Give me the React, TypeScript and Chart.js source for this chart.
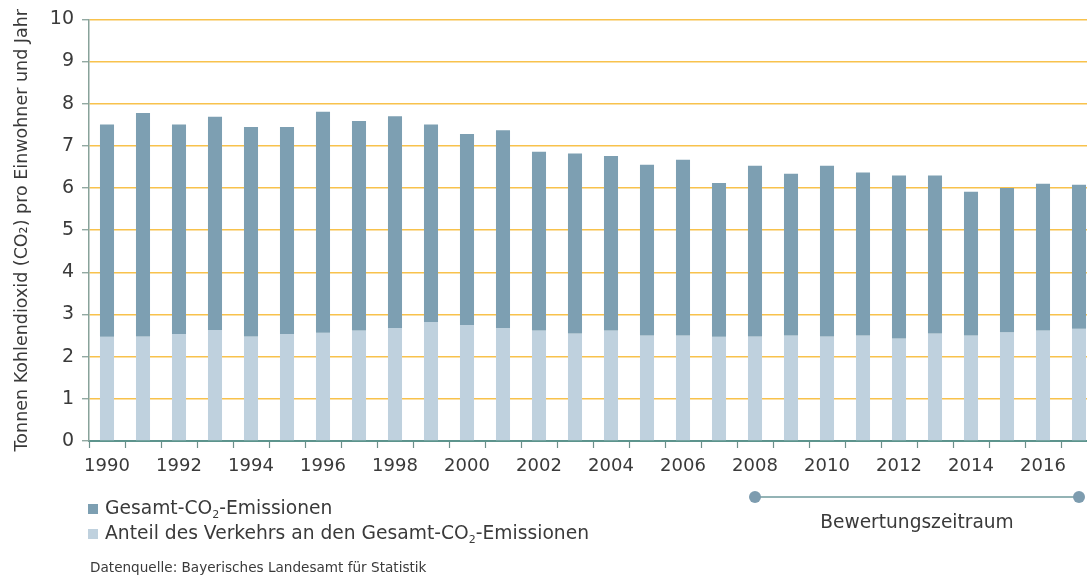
import React, { useEffect, useRef } from "react";
import { Chart, registerables } from "chart.js";

Chart.register(...registerables);

const years = [
  "1990", "1991", "1992", "1993", "1994", "1995", "1996", "1997", "1998", "1999",
  "2000", "2001", "2002", "2003", "2004", "2005", "2006", "2007", "2008", "2009",
  "2010", "2011", "2012", "2013", "2014", "2015", "2016", "2017",
];

// Gesamt-CO2-Emissionen (t pro Einwohner und Jahr)
const gesamt = [
  7.51, 7.78, 7.51, 7.69, 7.45, 7.45, 7.81, 7.59, 7.7, 7.51,
  7.28, 7.37, 6.86, 6.82, 6.76, 6.55, 6.67, 6.12, 6.53, 6.34,
  6.53, 6.37, 6.3, 6.3, 5.91, 6.0, 6.1, 6.08,
];

// Anteil des Verkehrs
const verkehr = [
  2.47, 2.48, 2.54, 2.63, 2.48, 2.54, 2.57, 2.62, 2.68, 2.82,
  2.75, 2.68, 2.62, 2.55, 2.62, 2.5, 2.5, 2.47, 2.48, 2.5,
  2.48, 2.5, 2.43, 2.55, 2.5, 2.58, 2.62, 2.66,
];

const yTicks = [0, 1, 2, 3, 4, 5, 6, 7, 8, 9, 10];
const periodStart = "2008";
const periodEnd = "2017";

const FONT = "'DejaVu Sans', 'Liberation Sans', Arial, sans-serif";
const TEXT = "#3a3a3a";
const DARK = "#7d9fb2";
const LIGHT = "#bfd1de";

const periodPlugin = {
  id: "periodPlugin",
  afterDraw(chart: any) {
    const xs = chart.scales.x;
    const x1 = xs.getPixelForValue(years.indexOf(periodStart));
    const x2 = xs.getPixelForValue(years.indexOf(periodEnd));
    const y = 497;
    const ctx = chart.ctx;
    ctx.save();
    ctx.strokeStyle = "#6f9a9c";
    ctx.lineWidth = 1.5;
    ctx.beginPath();
    ctx.moveTo(x1, y);
    ctx.lineTo(x2, y);
    ctx.stroke();
    ctx.fillStyle = "#7d9caf";
    [x1, x2].forEach((x) => {
      ctx.beginPath();
      ctx.arc(x, y, 6, 0, Math.PI * 2);
      ctx.fill();
    });
    ctx.restore();
  },
};

export default function App() {
  const ref = useRef<HTMLCanvasElement | null>(null);

  useEffect(() => {
    if (!ref.current) return;
    const chart = new Chart(ref.current, {
      type: "bar",
      data: {
        labels: years,
        datasets: [
          {
            label: "Anteil des Verkehrs an den Gesamt-CO₂-Emissionen",
            data: verkehr,
            backgroundColor: LIGHT,
            grouped: false,
            barPercentage: 0.39,
            categoryPercentage: 1,
            order: 2,
          } as any,
          {
            label: "Gesamt-CO₂-Emissionen",
            data: gesamt.map((g, i) => [verkehr[i], g]),
            backgroundColor: DARK,
            grouped: false,
            barPercentage: 0.39,
            categoryPercentage: 1,
            order: 1,
          } as any,
        ],
      },
      options: {
        responsive: false,
        animation: false,
        devicePixelRatio: 1,
        layout: { padding: { left: 0, right: 3, top: 17, bottom: 96 } },
        plugins: {
          legend: { display: false },
          tooltip: { enabled: false },
        },
        scales: {
          x: {
            offset: true,
            afterFit: (s: any) => {
              s.height = 40;
            },
            grid: {
              drawOnChartArea: false,
              drawTicks: true,
              tickLength: 7,
              tickColor: "#6d8f8a",
              tickWidth: 1.2,
              offset: true,
            },
            border: { color: "#5d948d", width: 2 },
            ticks: {
              autoSkip: false,
              maxRotation: 0,
              minRotation: 0,
              padding: 8,
              color: TEXT,
              font: { family: FONT, size: 18 },
              callback: (_v: any, i: number) => (i % 2 === 0 ? years[i] : ""),
            },
          },
          y: {
            min: 0,
            max: 10,
            afterFit: (s: any) => {
              s.width = 89;
            },
            afterBuildTicks: (s: any) => {
              s.ticks = yTicks.map((v) => ({ value: v }));
            },
            grid: {
              color: (c: any) => (c.tick && c.tick.value === 0 ? "rgba(0,0,0,0)" : "#f8c24c"),
              lineWidth: 1.5,
              tickColor: "#7f9a92",
              tickLength: 7,
              tickWidth: 1.2,
            },
            border: { color: "#88a29a", width: 1.5 },
            ticks: {
              padding: 8,
              color: TEXT,
              font: { family: FONT, size: 19 },
            },
            title: {
              display: true,
              text: "Tonnen Kohlendioxid (CO₂) pro Einwohner und Jahr",
              color: TEXT,
              font: { family: FONT, size: 17.5 },
              padding: { top: 12, bottom: 0 },
            },
          },
        },
      },
      plugins: [periodPlugin],
    } as any);
    return () => chart.destroy();
  }, []);

  const sub = (
    <span style={{ fontSize: "11px", verticalAlign: "-4px", lineHeight: 0 }}>2</span>
  );

  return (
    <div
      style={{
        position: "fixed",
        left: 0,
        top: 0,
        width: 1087,
        height: 577,
        overflow: "hidden",
        background: "#ffffff",
        fontFamily: FONT,
        color: TEXT,
      }}
    >
      <canvas
        ref={ref}
        width={1100}
        height={577}
        style={{ position: "absolute", left: 0, top: 0, width: 1100, height: 577, display: "block" }}
      />
      <div style={{ position: "absolute", left: 88, top: 495, fontSize: 18.7, lineHeight: "25px", whiteSpace: "nowrap" }}>
        <div style={{ display: "flex", alignItems: "center" }}>
          <span style={{ display: "inline-block", width: 10, height: 10, background: DARK, marginRight: 7, marginTop: 3 }} />
          <span>Gesamt-CO{sub}-Emissionen</span>
        </div>
        <div style={{ display: "flex", alignItems: "center" }}>
          <span style={{ display: "inline-block", width: 10, height: 10, background: LIGHT, marginRight: 7, marginTop: 3 }} />
          <span>Anteil des Verkehrs an den Gesamt-CO{sub}-Emissionen</span>
        </div>
      </div>
      <div style={{ position: "absolute", left: 90, top: 557, fontSize: 13.6, lineHeight: "20px", whiteSpace: "nowrap" }}>
        Datenquelle: Bayerisches Landesamt für Statistik
      </div>
      <div
        style={{
          position: "absolute",
          left: 755,
          width: 324,
          top: 509,
          fontSize: 18.6,
          lineHeight: "25px",
          textAlign: "center",
          whiteSpace: "nowrap",
        }}
      >
        Bewertungszeitraum
      </div>
    </div>
  );
}
